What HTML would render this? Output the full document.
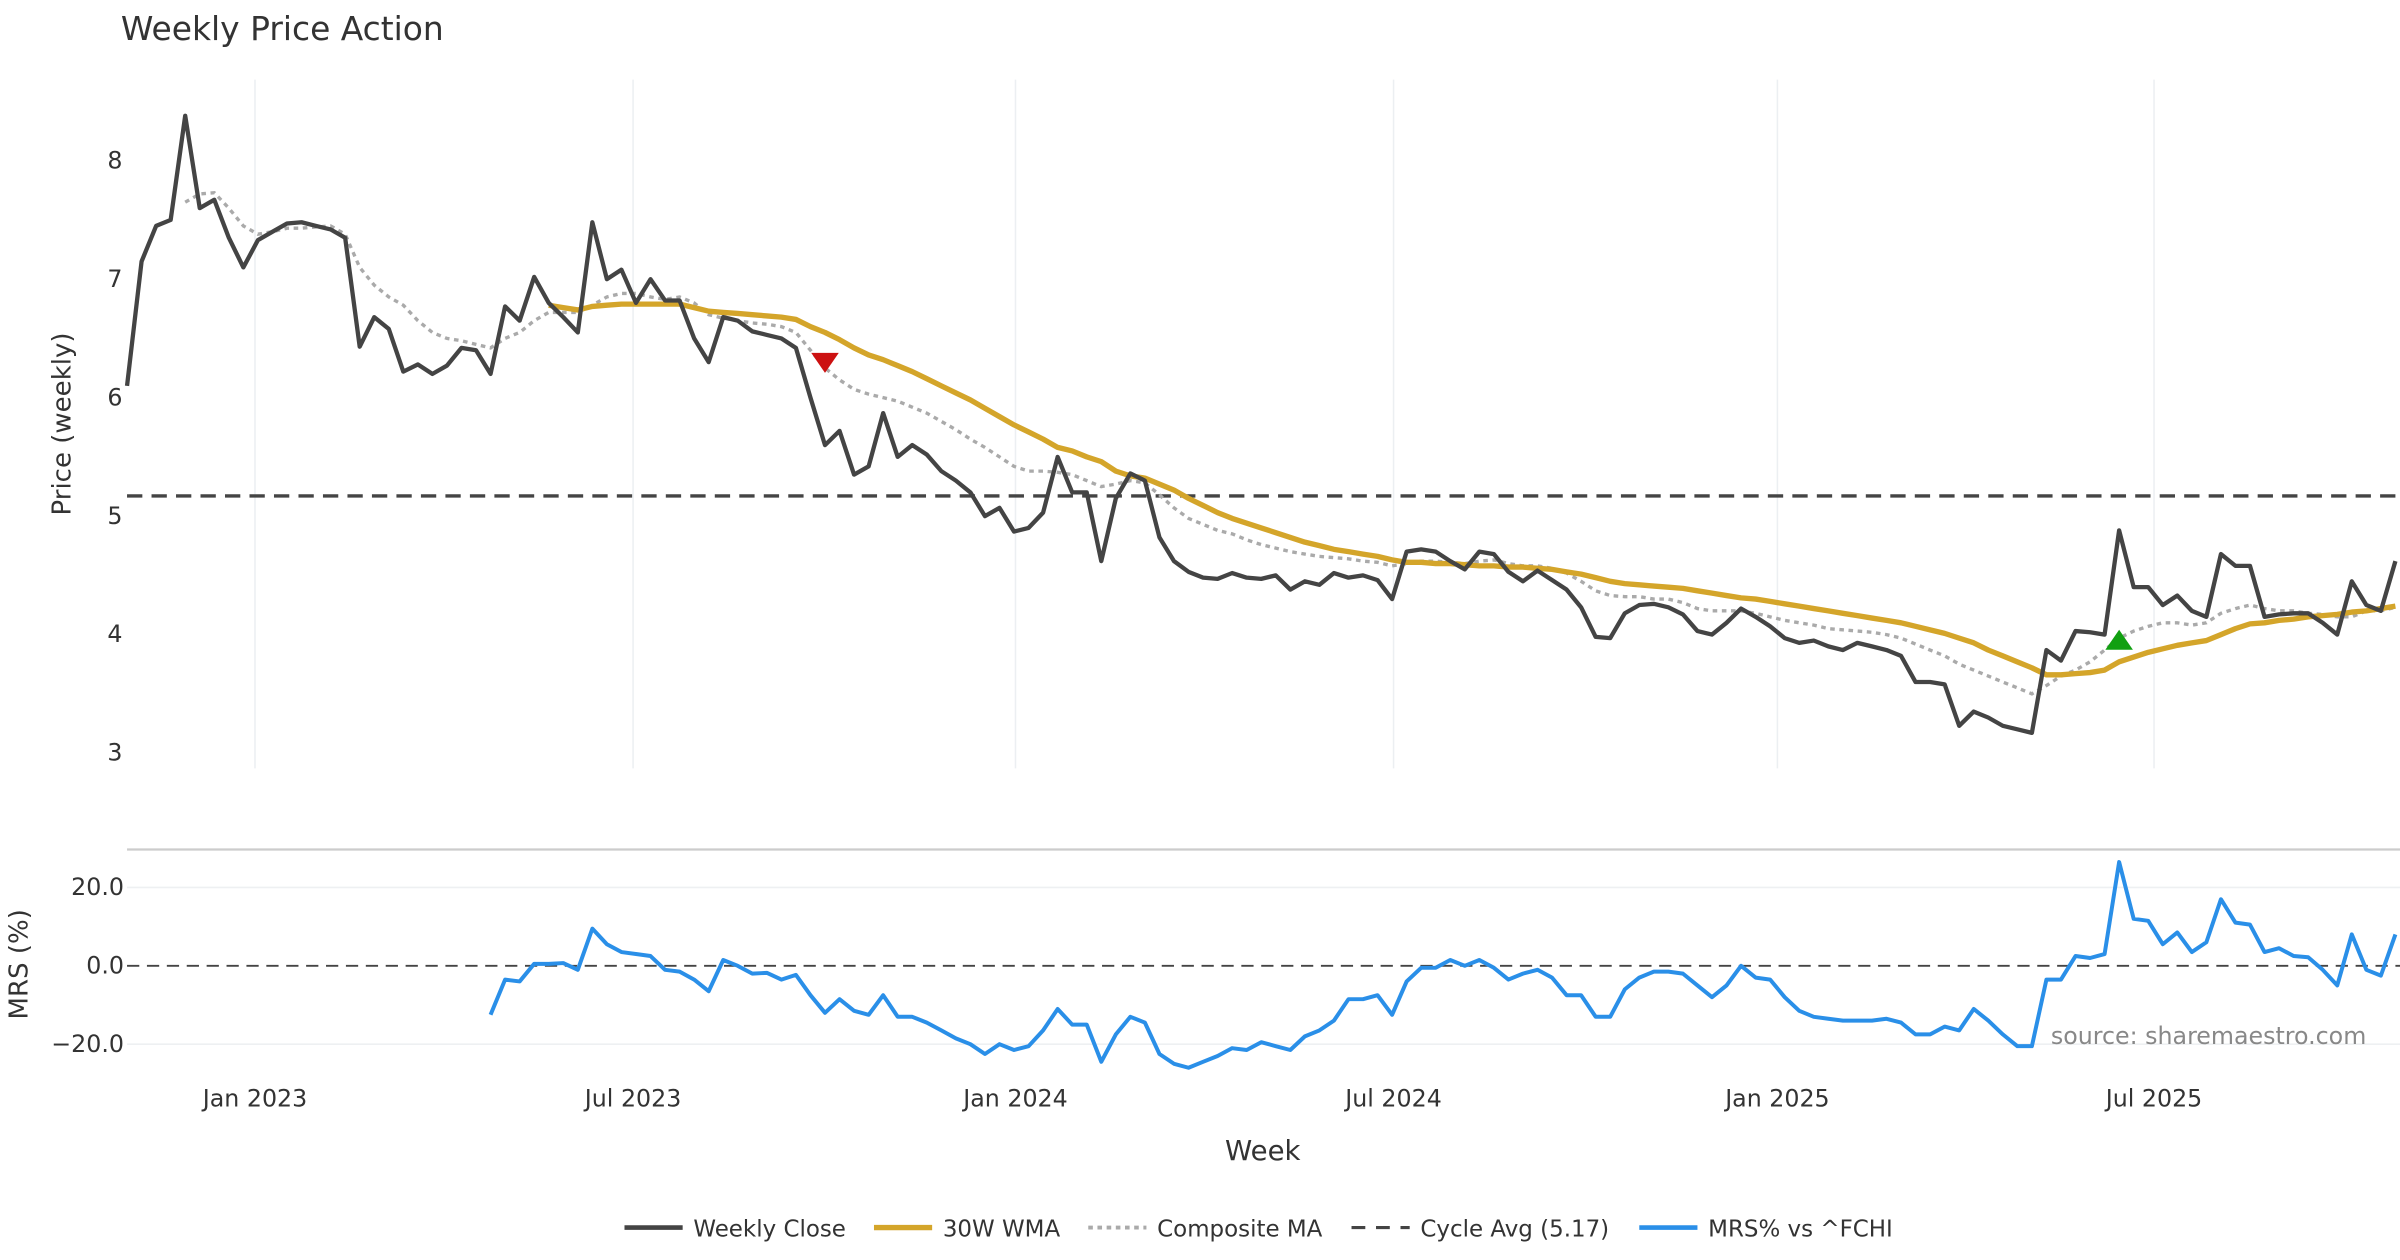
<!DOCTYPE html>
<html><head><meta charset="utf-8"><style>
html,body{margin:0;padding:0;background:#fff;}
svg{display:block;font-family:"DejaVu Sans","Liberation Sans",sans-serif;}
</style></head><body>
<svg id="chart" width="2400" height="1260" viewBox="0 0 1568 823.2" xmlns="http://www.w3.org/2000/svg">
<rect width="1568" height="823.2" fill="#fff"/>
<text x="79" y="26" font-size="21.5" fill="#333">Weekly Price Action</text>
<g id="grid"></g>
<g id="marks"></g>
<text transform="translate(46,277) rotate(-90)" text-anchor="middle" font-size="17" fill="#333">Price (weekly)</text>
<text transform="translate(18,630) rotate(-90)" text-anchor="middle" font-size="17" fill="#333">MRS (%)</text>
<text x="825" y="758" text-anchor="middle" font-size="18" fill="#333">Week</text>
<text x="1546" y="682" text-anchor="end" font-size="15.5" fill="#888">source: sharemaestro.com</text>
<g font-size="15" fill="#333">
<g><line x1="408" y1="802" x2="446" y2="802" stroke="#444" stroke-width="3"/><text x="453" y="808">Weekly Close</text></g>
<g><line x1="571" y1="802" x2="609" y2="802" stroke="#d4a52a" stroke-width="3.5"/><text x="616" y="808">30W WMA</text></g>
<g><line x1="711" y1="802" x2="749" y2="802" stroke="#aaa" stroke-width="2.5" stroke-dasharray="3,3"/><text x="756" y="808">Composite MA</text></g>
<g><line x1="883" y1="802" x2="921" y2="802" stroke="#444" stroke-width="2" stroke-dasharray="9,7"/><text x="928" y="808">Cycle Avg (5.17)</text></g>
<g><line x1="1071" y1="802" x2="1109" y2="802" stroke="#2a8fe8" stroke-width="3"/><text x="1116" y="808">MRS% vs ^FCHI</text></g>
</g>
</svg>
<script>
const closeVals=[6.1,7.15,7.45,7.5,8.38,7.6,7.67,7.35,7.1,7.33,7.4,7.47,7.48,7.45,7.42,7.35,6.43,6.68,6.58,6.22,6.28,6.2,6.27,6.42,6.4,6.2,6.77,6.65,7.02,6.8,6.68,6.55,7.48,7.0,7.08,6.8,7.0,6.82,6.82,6.5,6.3,6.68,6.65,6.56,6.53,6.5,6.42,6.0,5.6,5.72,5.35,5.42,5.87,5.5,5.6,5.52,5.38,5.3,5.2,5.0,5.07,4.87,4.9,5.03,5.5,5.2,5.2,4.62,5.15,5.36,5.3,4.82,4.62,4.53,4.48,4.47,4.52,4.48,4.47,4.5,4.38,4.45,4.42,4.52,4.48,4.5,4.46,4.3,4.7,4.72,4.7,4.62,4.55,4.7,4.68,4.53,4.45,4.54,4.46,4.38,4.23,3.98,3.97,4.18,4.25,4.26,4.23,4.17,4.03,4.0,4.1,4.22,4.15,4.07,3.97,3.93,3.95,3.9,3.87,3.93,3.9,3.87,3.82,3.6,3.6,3.58,3.23,3.35,3.3,3.23,3.2,3.17,3.87,3.78,4.03,4.02,4.0,4.88,4.4,4.4,4.25,4.33,4.2,4.15,4.68,4.58,4.58,4.15,4.17,4.18,4.18,4.1,4.0,4.45,4.25,4.2,4.62];
const wmaStart=29;
const wmaVals=[6.78,6.76,6.74,6.77,6.78,6.79,6.79,6.79,6.79,6.79,6.76,6.73,6.72,6.71,6.7,6.69,6.68,6.66,6.6,6.55,6.49,6.42,6.36,6.32,6.27,6.22,6.16,6.1,6.04,5.98,5.91,5.84,5.77,5.71,5.65,5.58,5.55,5.5,5.46,5.38,5.34,5.32,5.27,5.22,5.15,5.09,5.03,4.98,4.94,4.9,4.86,4.82,4.78,4.75,4.72,4.7,4.68,4.66,4.63,4.61,4.61,4.6,4.6,4.59,4.58,4.58,4.57,4.57,4.56,4.55,4.53,4.51,4.48,4.45,4.43,4.42,4.41,4.4,4.39,4.37,4.35,4.33,4.31,4.3,4.28,4.26,4.24,4.22,4.2,4.18,4.16,4.14,4.12,4.1,4.07,4.04,4.01,3.97,3.93,3.87,3.82,3.77,3.72,3.66,3.66,3.67,3.68,3.7,3.77,3.81,3.85,3.88,3.91,3.93,3.95,4.0,4.05,4.09,4.1,4.12,4.13,4.15,4.16,4.17,4.19,4.2,4.22,4.24];
const compStart=4;
const compVals=[7.65,7.72,7.73,7.6,7.45,7.38,7.4,7.43,7.43,7.44,7.45,7.38,7.1,6.95,6.85,6.78,6.65,6.55,6.5,6.48,6.45,6.42,6.5,6.55,6.65,6.72,6.72,6.72,6.78,6.85,6.88,6.88,6.85,6.83,6.85,6.8,6.7,6.67,6.65,6.63,6.62,6.6,6.55,6.4,6.25,6.15,6.07,6.03,6.0,5.97,5.92,5.87,5.8,5.73,5.65,5.58,5.5,5.42,5.38,5.38,5.37,5.35,5.3,5.25,5.27,5.3,5.28,5.18,5.07,4.98,4.93,4.88,4.85,4.8,4.76,4.73,4.7,4.68,4.66,4.65,4.64,4.62,4.61,4.58,4.6,4.62,4.62,4.61,4.6,4.62,4.63,4.6,4.58,4.58,4.56,4.52,4.45,4.37,4.33,4.32,4.32,4.3,4.3,4.27,4.22,4.2,4.2,4.2,4.18,4.15,4.12,4.1,4.08,4.05,4.04,4.03,4.02,4.0,3.97,3.92,3.87,3.82,3.75,3.7,3.65,3.6,3.55,3.5,3.57,3.65,3.7,3.77,3.87,3.97,4.03,4.07,4.1,4.1,4.08,4.1,4.18,4.22,4.25,4.22,4.2,4.2,4.18,4.17,4.15,4.15,4.2,4.2,4.23];
const mrsStart=25;
const mrsVals=[-12.5,-3.5,-4,0.5,0.5,0.7,-1,9.5,5.5,3.5,3,2.5,-1,-1.5,-3.5,-6.5,1.5,0,-2,-1.8,-3.5,-2.3,-7.5,-12,-8.5,-11.5,-12.5,-7.5,-13,-13,-14.5,-16.5,-18.5,-20,-22.5,-20,-21.5,-20.5,-16.5,-11,-15,-15,-24.5,-17.5,-13,-14.5,-22.5,-25,-26,-24.5,-23,-21,-21.5,-19.5,-20.5,-21.5,-18,-16.5,-14,-8.5,-8.5,-7.5,-12.5,-4,-0.5,-0.5,1.5,0,1.5,-0.5,-3.5,-2,-1,-3,-7.5,-7.5,-13,-13,-6,-3,-1.5,-1.5,-2,-5,-8,-5,0,-3,-3.5,-8,-11.5,-13,-13.5,-14,-14,-14,-13.5,-14.5,-17.5,-17.5,-15.5,-16.5,-11,-14,-17.5,-20.5,-20.5,-3.5,-3.5,2.5,2,3,26.5,12,11.5,5.5,8.5,3.5,6,17,11,10.5,3.5,4.5,2.5,2.2,-1,-5,8,-1,-2.5,8];
const cycleAvg=5.17;
const priceTicks=[3,4,5,6,7,8];
const mrsTicks=[20,0,-20];
const mrsTickLabels=["20.0","0.0","\u221220.0"];
const dateTicks=[8.8,34.8,61.1,87.1,113.5,139.4];
const dateLabels=["Jan 2023","Jul 2023","Jan 2024","Jul 2024","Jan 2025","Jul 2025"];
const sellIdx=48, sellVal=6.3, buyIdx=137, buyVal=3.95;

const NS="http://www.w3.org/2000/svg";
const X0=83, X1=1568;
const xs=i=>X0+i*9.5;
const yp=v=>492-(v-3)*77.4;
const ym=v=>631-v*2.56;
function mk(tag,attrs,parent){const e=document.createElementNS(NS,tag);for(const k in attrs)e.setAttribute(k,attrs[k]);parent.appendChild(e);return e;}
const gridG=document.getElementById('grid'), marksG=document.getElementById('marks');
dateTicks.forEach((d,k)=>{
  const l=mk('line',{x1:xs(d),x2:xs(d),y1:52,y2:502,stroke:'#eceff2','stroke-width':1},gridG);
  
  
  const t=mk('text',{x:xs(d),y:723,'text-anchor':'middle','font-size':15.5,fill:'#333'},gridG);
  t.textContent=dateLabels[k];
  
  
});
priceTicks.forEach(v=>{
  const t=mk('text',{x:80,y:yp(v)+5,'text-anchor':'end','font-size':15.5,fill:'#333'},gridG);
  t.textContent=v;
  
  
});
const panelBorder=mk('line',{x1:X0,x2:X1,y1:555,y2:555,stroke:'#ccc','stroke-width':1.5},gridG);


mrsTicks.forEach((v,k)=>{
  if(v!==0){const g=mk('line',{x1:X0,x2:X1,y1:ym(v),y2:ym(v),stroke:'#eef0f2','stroke-width':1},gridG);
  
  }
  const t=mk('text',{x:81,y:ym(v)+5,'text-anchor':'end','font-size':15.5,fill:'#333'},gridG);
  t.textContent=mrsTickLabels[k];
  
  
});
const zeroLine=mk('line',{x1:X0,x2:X1,y1:ym(0),y2:ym(0),stroke:'#444','stroke-width':1.3,'stroke-dasharray':'8,5'},marksG);


const caLine=mk('line',{x1:X0,x2:X1,y1:yp(cycleAvg),y2:yp(cycleAvg),stroke:'#444','stroke-width':2.2,'stroke-dasharray':'10,6'},marksG);


function pathD(vals,start,yf){return vals.map((v,i)=>(i?'L':'M')+xs(start+i).toFixed(1)+','+yf(v).toFixed(1)).join('');}
const pc=mk('path',{d:pathD(compVals,compStart,yp),fill:'none',stroke:'#aaa','stroke-width':2.2,'stroke-dasharray':'3,3'},marksG);


const pw=mk('path',{d:pathD(wmaVals,wmaStart,yp),fill:'none',stroke:'#d4a52a','stroke-width':3.5,'stroke-linejoin':'round'},marksG);


const pcl=mk('path',{d:pathD(closeVals,0,yp),fill:'none',stroke:'#444','stroke-width':2.8,'stroke-linejoin':'round'},marksG);


const pm=mk('path',{d:pathD(mrsVals,mrsStart,ym),fill:'none',stroke:'#2a8fe8','stroke-width':2.6,'stroke-linejoin':'round'},marksG);


const sx=xs(sellIdx), sy=yp(sellVal);
const sm=mk('polygon',{points:`${sx-9},${sy-6} ${sx+9},${sy-6} ${sx},${sy+7}`,fill:'#cc1111'},marksG);


const bx=xs(buyIdx), by=yp(buyVal);
const bm=mk('polygon',{points:`${bx-9},${by+6} ${bx+9},${by+6} ${bx},${by-7}`,fill:'#11a011'},marksG);


</script>
</body></html>
